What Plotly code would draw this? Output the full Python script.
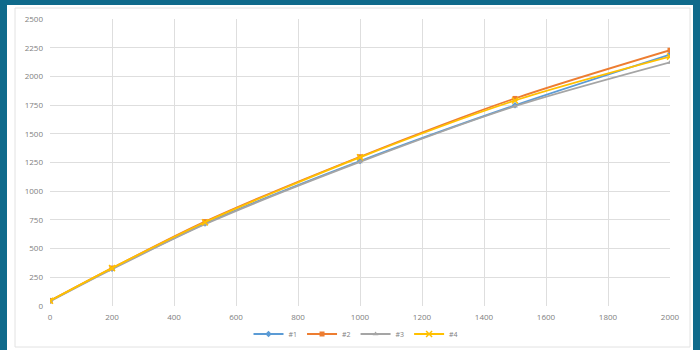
import plotly.graph_objects as go

# Measurement points and series values
x_vals = [0, 200, 500, 1000, 1500, 2000]
s1 = [45, 325, 718, 1262, 1748, 2190]
s2 = [45, 330, 735, 1300, 1808, 2228]
s3 = [40, 320, 712, 1255, 1740, 2122]
s4 = [45, 330, 730, 1295, 1790, 2172]

names = ["#1", "#2", "#3", "#4"]
colors = ["#5b9bd5", "#ed7d31", "#a5a5a5", "#ffc000"]
symbols = ["diamond", "square", "triangle-up", "x-thin-open"]
series = [s1, s2, s3, s4]

x_ticks = list(range(0, 2001, 200))
y_ticks = list(range(0, 2501, 250))

W, H = 700, 350
L, R, T, B = 50, 30, 19, 44
pw, ph = W - L - R, H - T - B
FRAME = "#0f6a8b"


def px(p):
    return (p - L) / pw


def py(p):
    return (H - B - p) / ph


fig = go.Figure()
for name, col, sym, ys in zip(names, colors, symbols, series):
    is_x = sym == "x-thin-open"
    fig.add_trace(go.Scatter(
        x=x_vals, y=ys, name=name, mode="lines+markers",
        line=dict(color=col, width=1.8, shape="spline", smoothing=0.8),
        marker=dict(symbol=sym, size=6 if is_x else 5, color=col,
                    line=dict(color=col, width=1.5 if is_x else 0)),
    ))

shapes = [
    # teal frame: left, top, right
    dict(type="rect", xref="paper", yref="paper", layer="below",
         x0=px(-2), x1=px(7), y0=py(355), y1=py(-2),
         fillcolor=FRAME, line=dict(width=0)),
    dict(type="rect", xref="paper", yref="paper", layer="below",
         x0=px(-2), x1=px(702), y0=py(5), y1=py(-2),
         fillcolor=FRAME, line=dict(width=0)),
    dict(type="rect", xref="paper", yref="paper", layer="below",
         x0=px(693), x1=px(702), y0=py(355), y1=py(-2),
         fillcolor=FRAME, line=dict(width=0)),
    # thin inner border of the chart area
    dict(type="rect", xref="paper", yref="paper", layer="below",
         x0=px(15), x1=px(690), y0=py(347), y1=py(8),
         fillcolor="rgba(0,0,0,0)", line=dict(color="#e2e2e2", width=1)),
]

tick_font = dict(family="Open Sans", size=8, color="#808080")
fig.update_layout(
    width=W, height=H,
    margin=dict(l=L, r=R, t=T, b=B, autoexpand=False),
    paper_bgcolor="white",
    plot_bgcolor="rgba(0,0,0,0)",
    shapes=shapes,
    showlegend=True,
    legend=dict(orientation="h", x=px(356), xanchor="center", y=py(334), yanchor="middle",
                font=dict(family="Open Sans", size=7, color="#808080"),
                itemwidth=30, tracegroupgap=0, bgcolor="rgba(0,0,0,0)"),
    xaxis=dict(range=[0, 2000], tickvals=x_ticks, showgrid=True, gridcolor="#dedede",
               gridwidth=1, zeroline=False, showline=False, tickfont=tick_font,
               ticks="", ticklabelstandoff=5),
    yaxis=dict(range=[0, 2500], tickvals=y_ticks, showgrid=True, gridcolor="#dedede",
               gridwidth=1, zeroline=False, showline=False, tickfont=tick_font,
               ticks="", ticklabelstandoff=6),
)

fig.write_html("out.html")
